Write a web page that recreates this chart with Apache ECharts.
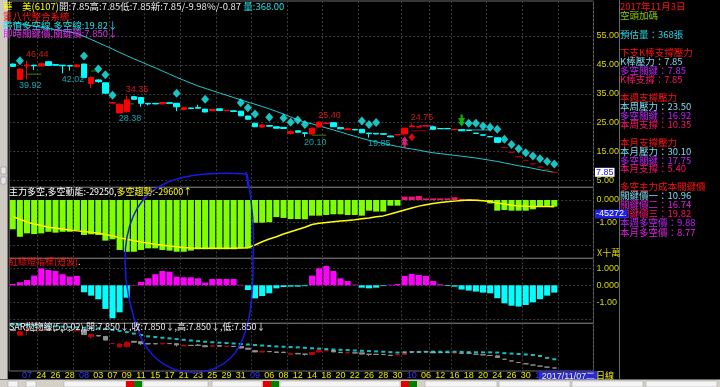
<!DOCTYPE html>
<html><head><meta charset="utf-8">
<script src="https://cdn.jsdelivr.net/npm/echarts@6/dist/echarts.min.js"></script>
<style>html,body{margin:0;padding:0;background:#000;}#c{width:720px;height:387px;}</style>
</head><body><div id="c"></div><script>
// ---------- DATA ----------
const dates = ['07/18','07/19','07/20','07/21','07/24','07/25','07/26','07/27','07/28','07/31',
'08/01','08/02','08/03','08/04','08/07','08/08','08/09','08/10','08/11','08/14','08/15','08/16','08/17','08/18','08/21','08/22','08/23','08/24','08/25','08/28','08/29','08/30','08/31',
'09/01','09/04','09/05','09/06','09/07','09/08','09/11','09/12','09/13','09/14','09/15','09/18','09/19','09/20','09/21','09/22','09/25','09/26','09/27','09/28','09/29','09/30',
'10/02','10/03','10/05','10/06','10/11','10/12','10/13','10/16','10/17','10/18','10/19','10/20','10/23','10/24','10/25','10/26','10/27','10/30','10/31',
'11/01','11/02','11/03','11/06','11/07','11/08','11/09','11/10'];
const tickLabels = ['','','07','','24','','26','','28','','08','','03','','07','','09','','11','','15','','17','','21','','23','','25','','29','','31','','09','','06','','08','','12','','14','','18','','20','','22','','26','','28','','30','','10','','06','','12','','16','','18','','20','','24','','26','','30','','11','','','','2017/11/07二','','',''];
const monthTickIdx = [2,10,34,56,74];
const todayIdx = 78;
const weekStartIdx = [4,9,14,19,24,29,34,39,44,49,55,59,62,67,72,77];

const open  = [45.3,40.0,44.6,44.9,44.6,46.1,45.1,44.9,44.8,44.4, 45.3,38.6,39.8,38.8,31.8,28.4,28.8,34.0,33.7,31.7, 31.7,31.5,31.9,31.7,29.6,30.1,30.3,29.7,29.2,29.8, 29.2,29.1,29.0,27.3,24.8,23.5,24.0,23.6,23.4,21.3, 22.2,21.5,21.1,23.5,24.7,25.0,23.3,22.6,22.7,22.7, 21.4,21.3,21.2,20.4,20.8,21.1,23.6,23.5,23.9,23.6, 23.0,23.0,22.6,22.6,22.4,21.4,20.8,20.2,19.8,16.40, 14.75,13.25,11.95,10.75,9.69,8.72,7.85];
const close = [44.5,43.5,44.9,44.7,45.4,44.8,44.9,44.7,44.6,45.0, 40.6,40.6,39.2,35.2,31.9,31.4,32.9,33.1,31.7,31.5, 31.5,32.0,31.7,30.5,30.2,29.9,30.0,28.7,29.6,29.2, 29.3,28.9,27.4,26.2,23.6,24.2,23.8,23.1,23.0,21.9, 21.7,21.3,23.1,25.2,24.9,23.6,22.9,22.9,22.5,21.5, 21.2,21.1,21.0,20.1,20.9,23.1,23.9,23.6,24.0,22.7, 22.9,22.9,22.7,22.2,22.3,21.3,20.7,20.1,18.2,16.40, 14.75,13.25,11.95,10.75,9.69,8.72,7.85];
const low   = [44.3,39.92,40.0,43.2,44.5,44.7,44.8,42.02,43.0,44.3, 40.5,37.0,38.8,35.0,31.6,28.38,28.6,33.0,30.5,31.0, 31.4,31.4,31.6,29.0,29.3,29.8,29.9,28.6,29.1,29.1, 29.1,28.8,27.3,26.1,23.5,23.3,23.7,23.0,22.9,20.9, 21.6,20.10,21.0,23.4,24.6,23.5,22.8,22.5,22.4,21.4, 19.85,21.0,20.9,20.0,20.7,21.0,23.5,23.4,23.8,22.6, 22.8,22.8,22.5,22.1,22.2,21.2,20.6,20.0,18.2,16.40, 14.75,13.25,11.95,10.75,9.69,8.72,7.85];
const high  = [45.5,43.8,46.44,45.0,45.6,46.2,45.2,45.0,44.9,45.2, 45.4,40.9,40.0,39.0,32.0,31.6,34.35,34.1,33.8,31.8, 31.8,32.1,32.0,31.8,30.5,30.2,31.2,29.8,29.7,29.9, 29.4,29.2,29.1,27.4,24.9,24.4,24.1,23.7,23.5,22.3, 22.3,21.6,23.2,25.40,25.0,25.1,23.4,23.0,22.8,22.8, 21.5,21.4,21.3,20.5,21.0,23.2,24.75,23.7,24.1,23.7, 23.1,23.1,22.8,22.7,22.5,21.5,20.9,20.3,19.9,16.40, 14.75,13.25,11.95,10.75,9.69,8.72,7.85];
const longMA = [59.6,59.2,58.8,58.4,58.0,57.6,57.2,56.8,56.4,55.9, 54.9,53.8,52.7,51.6,50.5,49.3,48.2,47.1,46.1,45.0, 44.0,42.9,41.8,40.7,39.7,38.7,37.7,36.9,36.1,35.3, 34.5,33.7,32.9,32.1,31.4,30.6,29.8,28.9,28.0,27.0, 26.0,25.2,24.6,23.9,23.2,22.5,21.8,21.0,20.3,19.6, 18.9,18.4,17.8,17.3,16.8,16.3,15.9,15.5,15.0,14.6, 14.3,14.0,13.7,13.4,13.1,12.8,12.4,12.0,11.6,11.1, 10.6,10.1,9.7,9.2,8.7,8.3,7.8];
const diamondIdx = [1,10,12,13,14,23,27,32,33,34,36,38,39,40,41,49,50,51,64,65,66,67,68,69,70,71,72,73,74,75,76];
const diamondVal = [46.4,48.1,43.6,41.6,34.5,35.2,33.1,31.9,30.2,28.0,26.9,26.6,25.2,25.9,24.4,25.6,24.4,25.1,24.8,24.8,23.9,23.4,22.7,19.3,17.5,16.0,14.6,13.5,12.5,11.6,10.7];
const redDiamondIdx = [56];
const redDiamondVal = [20.0];
const buyIdx = [55], buyVal = [18.2];
const sellIdx = [63], sellVal = [25.8];
const markIdx = [2,1,7,16,15,43,41,56,50];
const markVal = [46.44,39.92,42.02,34.35,28.38,25.40,20.10,24.75,19.85];
const markIsHigh = [true,false,false,true,false,true,false,true,false];
// short support / pressure segments: start index, end index, price, kind
const segStart = [2,11,16,42,56,57,63];
const segEnd   = [4,12,17,44,58,59,67];
const segPrice = [41.8,42.9,31.5,20.7,22.2,23.9,22.5];
const segKind  = ['sup','sup','sup','sup','res','key','trend'];

const mainForce = [-1.29,-1.62,-1.47,-1.50,-1.47,-1.40,-1.44,-1.40,-1.40,-1.35, -1.54,-1.51,-1.54,-1.79,-1.73,-2.20,-2.28,-2.28,-2.20,-2.13, -2.13,-2.20,-2.23,-2.28,-2.28,-2.23,-2.17,-2.17,-2.17,-2.17, -2.17,-2.17,-2.13,-2.13,-1.00,-1.00,-0.98,-0.75,-0.79,-0.84, -0.84,-0.85,-0.69,-0.69,-0.66,-0.63,-0.63,-0.66,-0.66,-0.69, -0.47,-0.51,-0.51,-0.25,-0.25,0.15,0.15,0.18,0.07,0.07, 0.07,0.07,0.12,0.05,0.03,0.02,-0.02,-0.15,-0.47,-0.44, -0.47,-0.47,-0.47,-0.41,-0.29,-0.26,-0.2925];
const mainTrend = [-0.73,-0.85,-0.97,-1.06,-1.12,-1.20,-1.24,-1.28,-1.32,-1.36, -1.39,-1.42,-1.46,-1.52,-1.58,-1.66,-1.73,-1.79,-1.85,-1.90, -1.95,-1.99,-2.03,-2.06,-2.09,-2.11,-2.13,-2.13,-2.13,-2.13, -2.12,-2.12,-2.11,-2.10,-1.98,-1.84,-1.72,-1.62,-1.50,-1.40, -1.30,-1.20,-1.08,-1.02,-0.99,-0.96,-0.93,-0.90,-0.87,-0.83, -0.79,-0.74,-0.70,-0.62,-0.53,-0.44,-0.35,-0.27,-0.21,-0.15, -0.11,-0.08,-0.05,-0.02,0.00,-0.01,-0.03,-0.07,-0.13,-0.18, -0.23,-0.26,-0.28,-0.29,-0.29,-0.29,-0.296];
const redGreen = [0.08,0.18,0.31,0.57,1.00,0.90,0.84,0.65,0.51,0.55, -0.41,-0.61,-0.82,-1.39,-1.94,-1.59,-0.73,0.02,0.20,0.41, 0.65,0.84,0.80,0.51,0.47,0.47,0.41,0.16,0.37,0.37, 0.37,0.37,0.03,-0.28,-0.77,-0.63,-0.47,-0.18,-0.10,-0.08, -0.08,-0.05,0.57,1.00,1.14,0.84,0.41,0.25,0.04,-0.14, -0.18,-0.14,-0.04,0.04,0.08,0.55,0.67,0.61,0.55,0.25, 0.06,-0.04,-0.08,-0.25,-0.31,-0.37,-0.43,-0.47,-0.76,-1.06, -1.20,-1.25,-1.16,-1.00,-0.82,-0.61,-0.43];
const sarVal = [50.5,50.2,49.9,49.6,49.3,49.0,48.7,48.4,48.1,47.8, 47.4,47.0,46.6,46.0,45.2,44.2,43.0,41.6,40.2,38.9, 38.2,37.5,36.9,36.2,35.5,34.8,34.2,33.6,33.1,32.7, 32.3,31.9,31.4,30.9,30.4,29.9,29.4,29.0,28.7,28.4, 28.1,27.6,27.2,26.8,26.4,26.0,25.7,25.4,25.0,24.7, 24.4,24.1,23.8,23.4,23.0,23.3,23.5,23.6,23.7,23.8, 23.8,23.8,23.8,23.7,23.4,23.3,23.2,23.2,23.0,22.4, 22.0,21.6,21.1,20.6,19.6,17.8,16.4];

const priceTicks = [5,15,25,35,45,55];
const mainTicks = [0,-1,-2], mainLabelTicks = [0,-1];
const rgTicks = [1,0,-1,-2], rgLabelTicks = [1,0,-1];

const stock = {name:'華　美', code:'6107', open:7.85, high:7.85, low:7.85, last:7.85, pct:-9.98, chg:-0.87, vol:368};
const bandLine = 19.82, keyLine = 7.850;
const mainNow = -29250, trendNow = -29600, cursorVal = '-45272.';
const sarNow = [7.850,7.850,7.850,7.850];
const infoDate = '2017年11月3日', infoSignal = '空頭加碼', estVol = 368;
const kbarLv = [7.85,7.85,7.85], weekLv = [23.50,16.92,10.35], monthLv = [30.10,17.75,5.40];
const keyPrice = [10.96,16.74,19.82], weekKey = 9.88, monthKey = 8.77;

// ---------- BUILD ----------
const CJK = '"Noto Sans CJK TC","Noto Sans CJK SC",sans-serif';
const NUM = '"Liberation Sans",Arial,sans-serif';
const GL = 9.2, GW = 584.25;
const gridDefs = [[1,186.3],[187.3,71],[258.3,65],[323.3,47.7]];
const grid = gridDefs.map(g => ({left:GL, width:GW, top:g[0], height:g[1], show:true, borderColor:'#6a6a6a', borderWidth:1}));

const xAxis = gridDefs.map((g,i) => ({
  type:'category', gridIndex:i, data:dates, boundaryGap:true,
  axisLine:{show:false}, axisTick:{show:false},
  axisLabel: i===3 ? {
    interval:0, margin:0, fontSize:9, fontFamily:NUM, color:'#e8e800',
    formatter:(v,idx)=>{ const t = tickLabels[idx]; if(!t) return ''; if(idx===todayIdx) return '{box|'+t+'}'; return monthTickIdx.includes(idx) ? '{m|'+t+'}' : t; },
    rich:{m:{color:'#3a3aff', fontSize:9, fontFamily:NUM}, box:{color:'#f0f0a0', backgroundColor:'#2a2ad0', fontSize:9, fontFamily:NUM, padding:[1,3,0,3]}}
  } : {show:false},
  splitLine:{show:true, interval:(idx)=>weekStartIdx.includes(idx), lineStyle:{color:'#3a3a3a', type:[2,2], width:1}}
}));

function yax(gi, min, max, ticks, labelTicks, fmt){
  return {type:'value', gridIndex:gi, position:'right', min, max,
    axisLine:{show:false}, axisTick:{show:false, customValues:ticks},
    axisLabel:{customValues:labelTicks, formatter:fmt, color:'#d8d800', fontSize:9, fontFamily:NUM, margin:3},
    splitLine:{show:true, lineStyle:{color:'#3a3a3a', type:[2,2], width:1}}};
}
const yAxis = [
  yax(0, 2.65, 67.11, priceTicks, priceTicks, v=>v.toFixed(2)),
  yax(1, -2.568, 0.559, mainTicks, mainLabelTicks, v=> v===0 ? '0.000' : v.toFixed(2)),
  yax(2, -2.235, 1.588, rgTicks, rgLabelTicks, v=> v>=0 ? v.toFixed(3) : v.toFixed(2)),
  {type:'value', gridIndex:3, position:'right', min:4.91, max:51.67, axisLine:{show:false}, axisTick:{show:false}, axisLabel:{show:false}, splitLine:{show:false}}
];

const candleData = open.map((o,i)=>{
  const item = {value:[o, close[i], low[i], high[i]]};
  if (high[i]===low[i]) item.itemStyle = {color:'#b00000', color0:'#b00000', borderColor:'#b00000', borderColor0:'#b00000'};
  return item;
});
const miniData = open.map((o,i)=>({value:[o, close[i], low[i], high[i]]}));

const arrowPath = 'path://M5,0 L10,5 L7,5 L10,9 L6.5,9 L6.5,13 L3.5,13 L3.5,9 L0,9 L3,5 L0,5 Z';
const segColor = {sup:'#2f8a10', res:'#a00000', key:'#b020b0', trend:'#20b0c0'};

const series = [
  {type:'line', xAxisIndex:0, yAxisIndex:0, data:longMA, symbol:'none', lineStyle:{color:'#20c8d0', width:1}, z:2},
  {type:'candlestick', xAxisIndex:0, yAxisIndex:0, data:candleData, barWidth:6,
    itemStyle:{color:'#ff0000', color0:'#00ffff', borderColor:'#ff0000', borderColor0:'#00ffff', borderWidth:1}, z:3},
  {type:'scatter', xAxisIndex:0, yAxisIndex:0, data:diamondIdx.map((x,k)=>[x, diamondVal[k]]), symbol:'diamond', symbolSize:[8,9], itemStyle:{color:'#20f4f4'}, z:4},
  {type:'scatter', xAxisIndex:0, yAxisIndex:0, data:redDiamondIdx.map((x,k)=>[x, redDiamondVal[k]]), symbol:'diamond', symbolSize:[7,8], itemStyle:{color:'#ff1010'}, z:4},
  {type:'scatter', xAxisIndex:0, yAxisIndex:0, data:buyIdx.map((x,k)=>[x, buyVal[k]]), symbol:arrowPath, symbolSize:[7,12], itemStyle:{color:'#ff2a9a'}, z:5},
  {type:'scatter', xAxisIndex:0, yAxisIndex:0, data:sellIdx.map((x,k)=>[x, sellVal[k]]), symbol:arrowPath, symbolRotate:180, symbolSize:[7,12], itemStyle:{color:'#10e010'}, z:5},
  {type:'scatter', xAxisIndex:0, yAxisIndex:0, symbolSize:1, itemStyle:{color:'rgba(0,0,0,0)'}, z:6,
    data: markIdx.map((x,k)=>({value:[x, markVal[k]], label:{show:true, position: markIsHigh[k]?'top':'bottom', distance:1, align:'left', offset:[-1,0],
      color: markIsHigh[k]?'#ff2020':'#10d0d8', fontSize:9, fontFamily:NUM, formatter:()=>markVal[k].toFixed(2)}}))},
  ...segStart.map((s,k)=>({type:'line', xAxisIndex:0, yAxisIndex:0, symbol:'none', z:2,
    data: dates.map((d,i)=> (i>=s && i<=segEnd[k]) ? segPrice[k] : null),
    lineStyle:{color:segColor[segKind[k]], width:1}})),
  {type:'bar', xAxisIndex:1, yAxisIndex:1, data:mainForce, barWidth:6,
    itemStyle:{color:(p)=> p.value>=0 ? '#f0147a' : '#80ff00'}, z:2},
  {type:'line', xAxisIndex:1, yAxisIndex:1, data:mainTrend, symbol:'none', lineStyle:{color:'#ffff00', width:1.5}, z:3},
  {type:'bar', xAxisIndex:2, yAxisIndex:2, data:redGreen, barWidth:6,
    itemStyle:{color:(p)=> p.value>=0 ? '#ff00ff' : '#00ffff'}, z:2},
  {type:'candlestick', xAxisIndex:3, yAxisIndex:3, data:miniData, barWidth:5,
    itemStyle:{color:'#c00000', color0:'#909090', borderColor:'#c00000', borderColor0:'#909090', borderWidth:1}, z:2},
  {type:'scatter', xAxisIndex:3, yAxisIndex:3, data:sarVal.map((v,i)=>[i,v]), symbol:'rect', symbolSize:[4,2], itemStyle:{color:'#20e8f0'}, z:3}
];

// ---------- TEXT / DECOR ----------
const G = [];
function txt(x, y, text, fill, size, font, extra){ G.push({type:'text', z:100, style:Object.assign({x, y, text, fill, font:(size||9)+'px '+(font||CJK), verticalAlign:'middle'}, extra||{})}); }
function rs(fill, size){ return {fill, fontSize:size||9, fontFamily:CJK}; }
function txtRich(x, y, text, rich, size){ G.push({type:'text', z:100, style:{x, y, text, rich, font:(size||9)+'px '+CJK, verticalAlign:'middle'}}); }

txtRich(3, 6, '{y|'+stock.name+'('+stock.code+')}{w|開:'+stock.open.toFixed(2)+'高:'+stock.high.toFixed(2)+'低:'+stock.low.toFixed(2)+'新:'+stock.last.toFixed(2)+'/'+stock.pct.toFixed(2)+'%/'+stock.chg.toFixed(2)+' }{c|量:'+stock.vol.toFixed(2)+'}',
  {y:rs('#ffff00',9.5), w:rs('#e8e8e8',9.5), c:rs('#20e0e8',9.5)}, 9.5);
txt(3, 16, '第八代整合系統.', '#ff1010', 9.5);
txt(3, 25, '帶值多空線,多空線:'+bandLine.toFixed(2)+'↓', '#20e0e8', 9.5);
txt(3, 33.5, '即時關鍵價,關鍵價:'+keyLine.toFixed(3)+'↓', '#e030f0', 9.5);

txtRich(9, 191.5, '{w|主力多空,多空動能:'+mainNow+',}{y|多空趨勢:'+trendNow+'↑}', {w:rs('#ffffff'), y:rs('#ffff20')});
txtRich(9, 261.5, '{r|紅綠燈指標(短波)}{y|.}', {r:rs('#ff1010'), y:rs('#ffff00')});
txt(9, 326.5, 'SAR拋物線(5,0.02),開:'+sarNow[0].toFixed(3)+'↓,收:'+sarNow[1].toFixed(3)+'↓,高:'+sarNow[2].toFixed(3)+'↓,低:'+sarNow[3].toFixed(3)+'↓', '#f0f0f0', 9);

const RX = 620, C_P='#80d8f0', C_K='#c020ff', C_S='#ff1070', C_R='#ff1010';
const info = [
  [6.5, infoDate, C_R], [15.5, infoSignal, '#8cc800'],
  [34, '預估量：'+estVol+'張', '#20d8e8'],
  [52.5, '下支K棒支撐壓力', C_R], [61.5, 'K棒壓力：'+kbarLv[0].toFixed(2), C_P], [70.3, '多空關鍵：'+kbarLv[1].toFixed(2), C_K], [79.2, 'K棒支撐：'+kbarLv[2].toFixed(2), C_S],
  [97.5, '本週支撐壓力', C_R], [106.5, '本周壓力：'+weekLv[0].toFixed(2), C_P], [115.5, '多空關鍵：'+weekLv[1].toFixed(2), C_K], [124, '本周支撐：'+weekLv[2].toFixed(2), C_S],
  [142.5, '本月支撐壓力', C_R], [151, '本月壓力：'+monthLv[0].toFixed(2), C_P], [160, '多空關鍵：'+monthLv[1].toFixed(2), C_K], [168.8, '本月支撐：'+monthLv[2].toFixed(2), C_S],
  [186.5, '多空主力成本關鍵價', C_R], [195.7, '關鍵價一：'+keyPrice[0].toFixed(2), C_P], [204.8, '關鍵價二：'+keyPrice[1].toFixed(2), '#e020e0'], [213.8, '關鍵價三：'+keyPrice[2].toFixed(2), C_S],
  [222.7, '本週多空價：'+weekKey.toFixed(2), C_K], [232, '本月多空價：'+monthKey.toFixed(2), '#e020e0']
];
info.forEach(r => txt(RX, r[0], r[1], r[2], 9.5));

txt(595, 172.3, stock.last.toFixed(2), '#2020ff', 9, NUM, {backgroundColor:'#ffffff', padding:[0,1,0,1]});
txt(595, 214, cursorVal, '#ffffff', 9, NUM, {backgroundColor:'#2020e0', padding:[0,1,0,1]});
txt(597, 252.5, 'X十萬', '#d8d800', 9);
txt(596, 375.5, '日線', '#e8e800', 9);

G.push({type:'line', z:90, shape:{x1:619.5, y1:0, x2:619.5, y2:379}, style:{stroke:'#6a6a6a', lineWidth:1}});
G.push({type:'rect', z:95, shape:{x:0, y:0, width:7, height:379}, style:{fill:'#cfcbc3'}});
G.push({type:'line', z:96, shape:{x1:7.5, y1:0, x2:7.5, y2:379}, style:{stroke:'#808080', lineWidth:1}});
G.push({type:'rect', z:96, shape:{x:1, y:167, width:5, height:7}, style:{fill:'#e8e8e8', stroke:'#808080', lineWidth:0.5}});
G.push({type:'rect', z:96, shape:{x:1, y:177, width:5, height:7}, style:{fill:'#e8e8e8', stroke:'#808080', lineWidth:0.5}});
G.push({type:'rect', z:95, shape:{x:0, y:379.5, width:720, height:7.5}, style:{fill:'#d4d0c8'}});
[[8,18],[26,36],[64,126],[143,208],[212,262],[280,400],[425,497],[499,570],[572,643],[646,717]].forEach(b=>{
  G.push({type:'rect', z:96, shape:{x:b[0], y:381, width:b[1]-b[0], height:6}, style:{fill:'#f4f4f4', stroke:'#a0a0a0', lineWidth:0.5}});
});
[[126,'#e00000'],[134,'#008000'],[263,'#e00000'],[271,'#008000'],[401,'#e00000'],[409,'#008000']].forEach(b=>{
  G.push({type:'rect', z:97, shape:{x:b[0], y:381, width:8, height:6}, style:{fill:b[1]}});
});
// hand-drawn blue annotation (cubic segments)
const annot = [[125,260,125,228,136,200,157,188],[157,188,172,178,200,171,247,174],[247,174,252,200,255,230,253,262],[253,262,253,300,250,325,240,345],[240,345,228,368,205,374,187,372],[187,372,165,370,148,355,140,335],[140,335,130,310,125,285,125,260]];
annot.forEach(s => G.push({type:'bezierCurve', z:80, shape:{x1:s[0], y1:s[1], cpx1:s[2], cpy1:s[3], cpx2:s[4], cpy2:s[5], x2:s[6], y2:s[7]}, style:{stroke:'#1a1ae6', fill:null, lineWidth:1.5}}));
G.push({type:'line', z:80, shape:{x1:246, y1:172, x2:248, y2:188}, style:{stroke:'#1a1ae6', lineWidth:1.2}});

const chart = echarts.init(document.getElementById('c'), null, {renderer:'canvas', width:720, height:387});
chart.setOption({backgroundColor:'#000000', animation:false, grid, xAxis, yAxis, series, graphic:G});
</script></body></html>
